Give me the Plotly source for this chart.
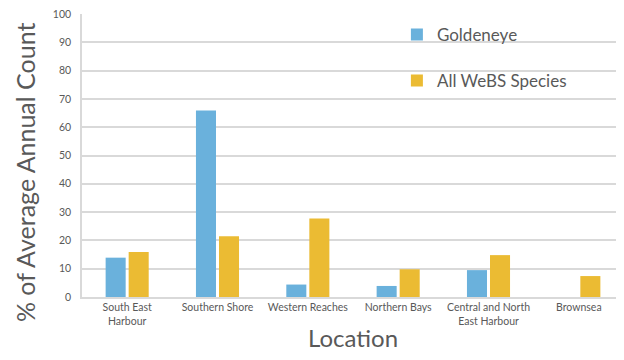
import plotly.graph_objects as go

locations = ["South East<br>Harbour", "Southern Shore", "Western Reaches", "Northern Bays",
             "Central and North<br>East Harbour", "Brownsea"]
goldeneye = [13.9, 65.9, 4.4, 3.9, 9.5, 0]
all_webs = [15.9, 21.5, 27.7, 9.8, 14.8, 7.4]
y_ticks = [0, 10, 20, 30, 40, 50, 60, 70, 80, 90, 100]

FONT = "Lato"
GRAY = "#595959"

fig = go.Figure()
fig.add_trace(go.Bar(x=locations, y=goldeneye, name="Goldeneye",
                     marker=dict(color="#6AB1DC", line=dict(width=0)),
                     legendgroup="a"))
fig.add_trace(go.Bar(x=locations, y=all_webs, name="All WeBS Species",
                     marker=dict(color="#EBBB33", line=dict(width=0)),
                     legendgroup="b"))

# page body has an 8px default margin, so the figure is sized/offset to compensate
fig.update_layout(
    width=616, height=352,
    margin=dict(l=74, r=0, t=6, b=63),
    paper_bgcolor="white", plot_bgcolor="white",
    barmode="group", bargap=0.49, bargroupgap=0.13,
    font=dict(family=FONT, color=GRAY),
    showlegend=True,
    legend=dict(x=0.581, y=0.99, xanchor="left", yanchor="top",
                font=dict(size=17, color=GRAY, family=FONT),
                tracegroupgap=21, bgcolor="rgba(255,255,255,0)",
                itemwidth=30),
    xaxis=dict(
        showline=True, linecolor="#D9D9D9", linewidth=1.5,
        tickfont=dict(size=10.5, color=GRAY, family=FONT),
        ticks="", title=dict(text="Location", font=dict(size=24, color=GRAY, family=FONT), standoff=4),
    ),
    yaxis=dict(
        range=[0, 100], tickvals=y_ticks,
        showgrid=True, gridcolor="#D9D9D9", gridwidth=1.5,
        showline=True, linecolor="#D9D9D9", linewidth=1.5,
        zeroline=False,
        tickfont=dict(size=10.5, color=GRAY, family=FONT),
        ticks="", ticklabelstandoff=7, ticklabeloverflow="allow",
    ),
    annotations=[dict(
        text="% of Average Annual Count", textangle=-90,
        xref="paper", yref="paper", x=-0.104, y=0.44,
        xanchor="center", yanchor="middle", showarrow=False,
        font=dict(size=25, color=GRAY, family=FONT),
    )],
)

fig.write_html("out.html")
